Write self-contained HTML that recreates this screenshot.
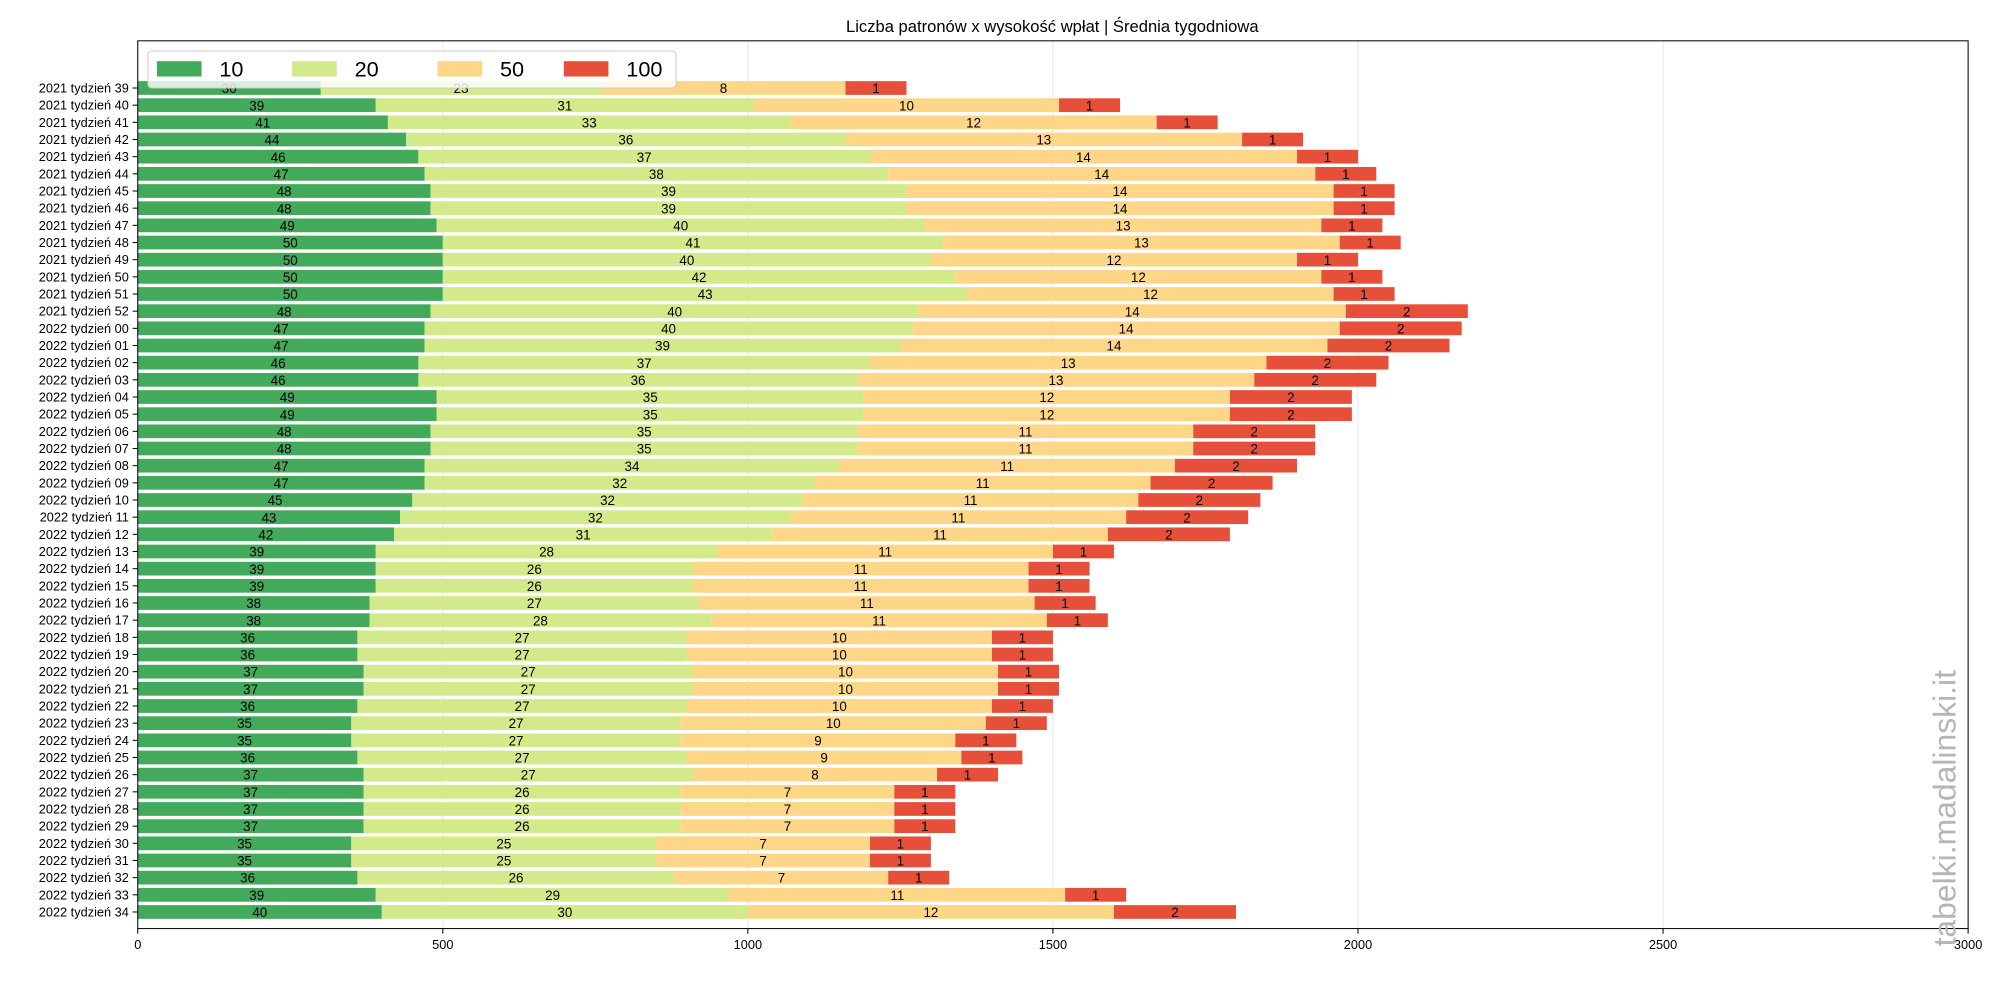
<!DOCTYPE html>
<html><head><meta charset="utf-8"><style>
html,body{margin:0;padding:0;background:#fff;}
svg{display:block;font-family:"Liberation Sans","DejaVu Sans",sans-serif;}
</style></head><body>
<svg id="chart" width="2000" height="1000" viewBox="0 0 1568 784" xmlns="http://www.w3.org/2000/svg">
<rect width="1568" height="784" fill="#fff"/>
<text x="825" y="25" text-anchor="middle" font-size="13">Liczba patronów x wysokość wpłat | Średnia tygodniowa</text>
<g id="grid"></g><g id="bars"></g><g id="axes"></g>
<text transform="translate(1533,742) rotate(-90)" font-size="25" fill="#b5b5b5">tabelki.madalinski.it</text>
<g id="legend"></g>
</svg>
<script>
const categories = ["2021 tydzień 39","2021 tydzień 40","2021 tydzień 41","2021 tydzień 42","2021 tydzień 43","2021 tydzień 44","2021 tydzień 45","2021 tydzień 46","2021 tydzień 47","2021 tydzień 48","2021 tydzień 49","2021 tydzień 50","2021 tydzień 51","2021 tydzień 52","2022 tydzień 00","2022 tydzień 01","2022 tydzień 02","2022 tydzień 03","2022 tydzień 04","2022 tydzień 05","2022 tydzień 06","2022 tydzień 07","2022 tydzień 08","2022 tydzień 09","2022 tydzień 10","2022 tydzień 11","2022 tydzień 12","2022 tydzień 13","2022 tydzień 14","2022 tydzień 15","2022 tydzień 16","2022 tydzień 17","2022 tydzień 18","2022 tydzień 19","2022 tydzień 20","2022 tydzień 21","2022 tydzień 22","2022 tydzień 23","2022 tydzień 24","2022 tydzień 25","2022 tydzień 26","2022 tydzień 27","2022 tydzień 28","2022 tydzień 29","2022 tydzień 30","2022 tydzień 31","2022 tydzień 32","2022 tydzień 33","2022 tydzień 34"];
const count10 = [30,39,41,44,46,47,48,48,49,50,50,50,50,48,47,47,46,46,49,49,48,48,47,47,45,43,42,39,39,39,38,38,36,36,37,37,36,35,35,36,37,37,37,37,35,35,36,39,40];
const count20 = [23,31,33,36,37,38,39,39,40,41,40,42,43,40,40,39,37,36,35,35,35,35,34,32,32,32,31,28,26,26,27,28,27,27,27,27,27,27,27,27,27,26,26,26,25,25,26,29,30];
const count50 = [8,10,12,13,14,14,14,14,13,13,12,12,12,14,14,14,13,13,12,12,11,11,11,11,11,11,11,11,11,11,11,11,10,10,10,10,10,10,9,9,8,7,7,7,7,7,7,11,12];
const count100 = [1,1,1,1,1,1,1,1,1,1,1,1,1,2,2,2,2,2,2,2,2,2,2,2,2,2,2,1,1,1,1,1,1,1,1,1,1,1,1,1,1,1,1,1,1,1,1,1,2];
const amounts = [10,20,50,100];
const seriesLabels = ["10","20","50","100"];
const xTicks = [0,500,1000,1500,2000,2500,3000];

const NS="http://www.w3.org/2000/svg";
const colors=["#43a95b","#d3ea8b","#fed688","#e6503b"];
const L=108,R=1543,T=32,B=728;
const xs=v=>L+(v/3000)*(R-L);
const step=(715-69)/48;
const ys=i=>69+i*step;
const bh=step*0.8;
function mk(tag,attrs,parent){const e=document.createElementNS(NS,tag);for(const k in attrs)e.setAttribute(k,attrs[k]);parent.appendChild(e);return e;}
const grid=document.getElementById('grid'),bars=document.getElementById('bars'),axes=document.getElementById('axes'),legend=document.getElementById('legend');
xTicks.forEach(t=>{
  const g=mk('line',{x1:xs(t),x2:xs(t),y1:T,y2:B,stroke:'#e6e6e6','stroke-width':0.8},grid);
  
  
  mk('line',{x1:xs(t),x2:xs(t),y1:B,y2:B+4,stroke:'#000','stroke-width':0.8},axes);
  const tx=mk('text',{x:xs(t),y:B+16,'text-anchor':'middle','font-size':10},axes);
  tx.textContent=t;
  
  
});
const series=[count10,count20,count50,count100];
categories.forEach((c,i)=>{
  const y=ys(i);
  let acc=0;
  series.forEach((s,k)=>{
    const w=s[i]*amounts[k];
    const r=mk('rect',{x:xs(acc),y:y-bh/2,width:xs(acc+w)-xs(acc),height:bh,fill:colors[k]},bars);
    
    
    const t=mk('text',{x:(xs(acc)+xs(acc+w))/2,y:y+4,'text-anchor':'middle','font-size':10.5},bars);
    t.textContent=s[i];
    
    
    acc+=w;
  });
  mk('line',{x1:L-4,x2:L,y1:y,y2:y,stroke:'#000','stroke-width':0.8},axes);
  const lb=mk('text',{x:L-7,y:y+3.5,'text-anchor':'end','font-size':10},axes);
  lb.textContent=c;
  
  
});
const fr=mk('rect',{x:L,y:T,width:R-L,height:B-T,fill:'none',stroke:'#000','stroke-width':0.8},axes);


const lb=mk('rect',{x:116,y:40,width:414,height:29,rx:3,fill:'#fff','fill-opacity':0.8,stroke:'#ccc','stroke-width':0.8},legend);


const px=[123,229,343,442];
seriesLabels.forEach((s,k)=>{
  const p=mk('rect',{x:px[k],y:48,width:35,height:12,fill:colors[k]},legend);
  
  
  const t=mk('text',{x:px[k]+49,y:60,'font-size':17},legend);
  t.textContent=s;
  
  
});
</script>
</body></html>
